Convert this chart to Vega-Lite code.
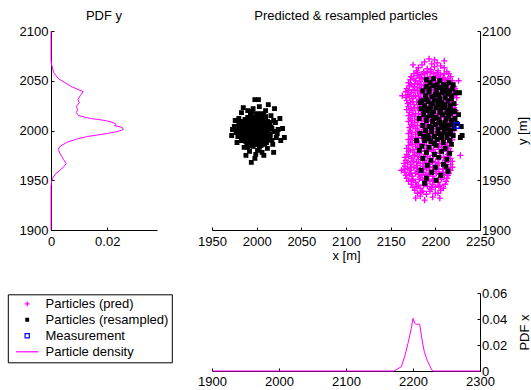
{
"$schema": "https://vega.github.io/schema/vega-lite/v6.json",
"background": "white",
"padding": {"left": 7, "top": 10, "right": 0, "bottom": 0},
"columns": 2,
"bounds": "flush",
"spacing": {"row": 63, "column": 55},
"datasets": {
"pdfy": [{"y":1900,"d":0},{"y":1944,"d":0},{"y":1949,"d":0.0002},{"y":1953,"d":0.0008},{"y":1957,"d":0.0018},{"y":1960,"d":0.0032},{"y":1964,"d":0.0047},{"y":1967,"d":0.0054},{"y":1971,"d":0.0044},{"y":1974,"d":0.0038},{"y":1977,"d":0.0032},{"y":1981,"d":0.0026},{"y":1984,"d":0.0032},{"y":1988,"d":0.0056},{"y":1991,"d":0.0086},{"y":1994,"d":0.013},{"y":1997,"d":0.02},{"y":1999,"d":0.0238},{"y":2001,"d":0.0257},{"y":2003,"d":0.0254},{"y":2005,"d":0.0226},{"y":2006,"d":0.0232},{"y":2007,"d":0.0228},{"y":2009,"d":0.021},{"y":2011,"d":0.0172},{"y":2012,"d":0.014},{"y":2015,"d":0.0098},{"y":2018,"d":0.009},{"y":2021,"d":0.0095},{"y":2024,"d":0.009},{"y":2028,"d":0.0101},{"y":2031,"d":0.0096},{"y":2035,"d":0.0104},{"y":2039,"d":0.0114},{"y":2044,"d":0.0074},{"y":2048,"d":0.005},{"y":2052,"d":0.0027},{"y":2058,"d":0.001},{"y":2064,"d":0.0004},{"y":2068,"d":0.0001},{"y":2072,"d":0},{"y":2100,"d":0}],
"pdfx": [{"x":1900,"d":0},{"x":2171,"d":0},{"x":2175,"d":0.001},{"x":2182.5,"d":0.0033},{"x":2187.5,"d":0.011},{"x":2192.5,"d":0.0213},{"x":2197.5,"d":0.0328},{"x":2200,"d":0.0405},{"x":2202.5,"d":0.0367},{"x":2205,"d":0.036},{"x":2210,"d":0.036},{"x":2213.5,"d":0.024},{"x":2217,"d":0.0145},{"x":2221,"d":0.0085},{"x":2225,"d":0.004},{"x":2228,"d":0.0008},{"x":2231,"d":0},{"x":2300,"d":0}],
"pts": [
{"s":"p","x":2193,"y":2072},{"s":"p","x":2199,"y":2071},
{"s":"p","x":2188,"y":2069},{"s":"p","x":2202,"y":2068},
{"s":"p","x":2185,"y":2066},{"s":"p","x":2196,"y":2067},{"s":"p","x":2206,"y":2065},
{"s":"p","x":2181,"y":2063},{"s":"p","x":2191,"y":2062},{"s":"p","x":2199,"y":2064},{"s":"p","x":2210,"y":2063},
{"s":"p","x":2179,"y":2060},{"s":"p","x":2187,"y":2059},{"s":"p","x":2195,"y":2061},{"s":"p","x":2203,"y":2060},{"s":"p","x":2213,"y":2059},
{"s":"p","x":2176,"y":2057},{"s":"p","x":2184,"y":2056},{"s":"p","x":2191,"y":2058},{"s":"p","x":2198,"y":2057},{"s":"p","x":2206,"y":2056},{"s":"p","x":2215,"y":2057},
{"s":"p","x":2173,"y":2054},{"s":"p","x":2180,"y":2055},{"s":"p","x":2188,"y":2053},{"s":"p","x":2194,"y":2054},{"s":"p","x":2201,"y":2055},{"s":"p","x":2209,"y":2053},{"s":"p","x":2217,"y":2054},
{"s":"p","x":2172,"y":2051},{"s":"p","x":2178,"y":2050},{"s":"p","x":2185,"y":2052},{"s":"p","x":2192,"y":2051},{"s":"p","x":2198,"y":2050},{"s":"p","x":2205,"y":2052},{"s":"p","x":2211,"y":2051},{"s":"p","x":2219,"y":2050},
{"s":"p","x":2170,"y":2048},{"s":"p","x":2177,"y":2047},{"s":"p","x":2183,"y":2049},{"s":"p","x":2190,"y":2048},{"s":"p","x":2197,"y":2047},{"s":"p","x":2203,"y":2049},{"s":"p","x":2210,"y":2048},{"s":"p","x":2218,"y":2047},
{"s":"p","x":2171,"y":2045},{"s":"p","x":2176,"y":2044},{"s":"p","x":2184,"y":2046},{"s":"p","x":2189,"y":2045},{"s":"p","x":2196,"y":2044},{"s":"p","x":2204,"y":2046},{"s":"p","x":2212,"y":2045},{"s":"p","x":2221,"y":2044},
{"s":"p","x":2168,"y":2042},{"s":"p","x":2175,"y":2041},{"s":"p","x":2182,"y":2043},{"s":"p","x":2188,"y":2042},{"s":"p","x":2195,"y":2041},{"s":"p","x":2201,"y":2043},{"s":"p","x":2208,"y":2042},{"s":"p","x":2215,"y":2041},{"s":"p","x":2222,"y":2042},
{"s":"p","x":2167,"y":2039},{"s":"p","x":2173,"y":2038},{"s":"p","x":2180,"y":2040},{"s":"p","x":2186,"y":2039},{"s":"p","x":2193,"y":2038},{"s":"p","x":2199,"y":2040},{"s":"p","x":2206,"y":2039},{"s":"p","x":2213,"y":2038},{"s":"p","x":2223,"y":2039},
{"s":"p","x":2169,"y":2036},{"s":"p","x":2176,"y":2035},{"s":"p","x":2183,"y":2037},{"s":"p","x":2190,"y":2036},{"s":"p","x":2197,"y":2035},{"s":"p","x":2204,"y":2037},{"s":"p","x":2211,"y":2036},{"s":"p","x":2220,"y":2035},
{"s":"p","x":2167,"y":2033},{"s":"p","x":2174,"y":2032},{"s":"p","x":2181,"y":2034},{"s":"p","x":2188,"y":2033},{"s":"p","x":2195,"y":2032},{"s":"p","x":2202,"y":2034},{"s":"p","x":2209,"y":2033},{"s":"p","x":2216,"y":2032},{"s":"p","x":2224,"y":2033},
{"s":"p","x":2168,"y":2030},{"s":"p","x":2175,"y":2029},{"s":"p","x":2182,"y":2031},{"s":"p","x":2189,"y":2030},{"s":"p","x":2196,"y":2029},{"s":"p","x":2203,"y":2031},{"s":"p","x":2210,"y":2030},{"s":"p","x":2219,"y":2029},
{"s":"p","x":2169,"y":2027},{"s":"p","x":2176,"y":2026},{"s":"p","x":2183,"y":2028},{"s":"p","x":2190,"y":2027},{"s":"p","x":2197,"y":2026},{"s":"p","x":2205,"y":2028},{"s":"p","x":2213,"y":2027},{"s":"p","x":2222,"y":2026},
{"s":"p","x":2170,"y":2024},{"s":"p","x":2177,"y":2023},{"s":"p","x":2185,"y":2025},{"s":"p","x":2192,"y":2024},{"s":"p","x":2199,"y":2023},{"s":"p","x":2207,"y":2025},{"s":"p","x":2215,"y":2024},{"s":"p","x":2221,"y":2023},
{"s":"p","x":2168,"y":2021},{"s":"p","x":2175,"y":2020},{"s":"p","x":2182,"y":2022},{"s":"p","x":2189,"y":2021},{"s":"p","x":2196,"y":2020},{"s":"p","x":2203,"y":2022},{"s":"p","x":2211,"y":2021},{"s":"p","x":2223,"y":2020},
{"s":"p","x":2171,"y":2018},{"s":"p","x":2178,"y":2017},{"s":"p","x":2186,"y":2019},{"s":"p","x":2193,"y":2018},{"s":"p","x":2200,"y":2017},{"s":"p","x":2208,"y":2019},{"s":"p","x":2216,"y":2018},
{"s":"p","x":2170,"y":2015},{"s":"p","x":2177,"y":2014},{"s":"p","x":2184,"y":2016},{"s":"p","x":2191,"y":2015},{"s":"p","x":2198,"y":2014},{"s":"p","x":2205,"y":2016},{"s":"p","x":2213,"y":2015},{"s":"p","x":2222,"y":2014},
{"s":"p","x":2172,"y":2012},{"s":"p","x":2180,"y":2011},{"s":"p","x":2187,"y":2013},{"s":"p","x":2194,"y":2012},{"s":"p","x":2202,"y":2011},{"s":"p","x":2210,"y":2013},{"s":"p","x":2219,"y":2012},
{"s":"p","x":2170,"y":2009},{"s":"p","x":2177,"y":2008},{"s":"p","x":2185,"y":2010},{"s":"p","x":2192,"y":2009},{"s":"p","x":2199,"y":2008},{"s":"p","x":2207,"y":2010},{"s":"p","x":2215,"y":2009},{"s":"p","x":2223,"y":2008},
{"s":"p","x":2173,"y":2006},{"s":"p","x":2180,"y":2005},{"s":"p","x":2188,"y":2007},{"s":"p","x":2195,"y":2006},{"s":"p","x":2203,"y":2005},{"s":"p","x":2211,"y":2007},{"s":"p","x":2220,"y":2006},
{"s":"p","x":2171,"y":2003},{"s":"p","x":2178,"y":2002},{"s":"p","x":2186,"y":2004},{"s":"p","x":2193,"y":2003},{"s":"p","x":2201,"y":2002},{"s":"p","x":2209,"y":2004},{"s":"p","x":2218,"y":2003},
{"s":"p","x":2172,"y":2000},{"s":"p","x":2180,"y":1999},{"s":"p","x":2187,"y":2001},{"s":"p","x":2194,"y":2000},{"s":"p","x":2202,"y":1999},{"s":"p","x":2210,"y":2001},{"s":"p","x":2221,"y":2000},
{"s":"p","x":2170,"y":1997},{"s":"p","x":2178,"y":1996},{"s":"p","x":2185,"y":1998},{"s":"p","x":2192,"y":1997},{"s":"p","x":2200,"y":1996},{"s":"p","x":2208,"y":1998},{"s":"p","x":2217,"y":1997},
{"s":"p","x":2173,"y":1994},{"s":"p","x":2181,"y":1993},{"s":"p","x":2189,"y":1995},{"s":"p","x":2197,"y":1994},{"s":"p","x":2206,"y":1993},{"s":"p","x":2215,"y":1994},
{"s":"p","x":2170,"y":1991},{"s":"p","x":2177,"y":1990},{"s":"p","x":2185,"y":1992},{"s":"p","x":2192,"y":1991},{"s":"p","x":2200,"y":1990},{"s":"p","x":2209,"y":1992},{"s":"p","x":2219,"y":1991},
{"s":"p","x":2172,"y":1988},{"s":"p","x":2180,"y":1987},{"s":"p","x":2188,"y":1989},{"s":"p","x":2196,"y":1988},{"s":"p","x":2205,"y":1987},{"s":"p","x":2214,"y":1988},
{"s":"p","x":2170,"y":1985},{"s":"p","x":2178,"y":1984},{"s":"p","x":2186,"y":1986},{"s":"p","x":2194,"y":1985},{"s":"p","x":2203,"y":1984},{"s":"p","x":2213,"y":1985},
{"s":"p","x":2168,"y":1982},{"s":"p","x":2175,"y":1981},{"s":"p","x":2182,"y":1983},{"s":"p","x":2190,"y":1982},{"s":"p","x":2198,"y":1981},{"s":"p","x":2207,"y":1983},{"s":"p","x":2215,"y":1982},
{"s":"p","x":2170,"y":1979},{"s":"p","x":2177,"y":1978},{"s":"p","x":2184,"y":1980},{"s":"p","x":2192,"y":1979},{"s":"p","x":2200,"y":1978},{"s":"p","x":2209,"y":1980},{"s":"p","x":2217,"y":1979},
{"s":"p","x":2168,"y":1976},{"s":"p","x":2175,"y":1975},{"s":"p","x":2182,"y":1977},{"s":"p","x":2189,"y":1976},{"s":"p","x":2197,"y":1975},{"s":"p","x":2205,"y":1977},{"s":"p","x":2214,"y":1976},
{"s":"p","x":2166,"y":1973},{"s":"p","x":2173,"y":1972},{"s":"p","x":2180,"y":1974},{"s":"p","x":2187,"y":1973},{"s":"p","x":2194,"y":1972},{"s":"p","x":2201,"y":1974},{"s":"p","x":2209,"y":1973},{"s":"p","x":2217,"y":1972},
{"s":"p","x":2167,"y":1970},{"s":"p","x":2174,"y":1969},{"s":"p","x":2181,"y":1971},{"s":"p","x":2188,"y":1970},{"s":"p","x":2195,"y":1969},{"s":"p","x":2203,"y":1971},{"s":"p","x":2211,"y":1970},{"s":"p","x":2219,"y":1969},
{"s":"p","x":2165,"y":1967},{"s":"p","x":2172,"y":1966},{"s":"p","x":2179,"y":1968},{"s":"p","x":2186,"y":1967},{"s":"p","x":2193,"y":1966},{"s":"p","x":2200,"y":1968},{"s":"p","x":2208,"y":1967},{"s":"p","x":2217,"y":1966},
{"s":"p","x":2166,"y":1964},{"s":"p","x":2173,"y":1963},{"s":"p","x":2180,"y":1965},{"s":"p","x":2187,"y":1964},{"s":"p","x":2194,"y":1963},{"s":"p","x":2202,"y":1965},{"s":"p","x":2210,"y":1964},{"s":"p","x":2219,"y":1963},
{"s":"p","x":2165,"y":1961},{"s":"p","x":2172,"y":1960},{"s":"p","x":2179,"y":1962},{"s":"p","x":2186,"y":1961},{"s":"p","x":2193,"y":1960},{"s":"p","x":2200,"y":1962},{"s":"p","x":2208,"y":1961},{"s":"p","x":2217,"y":1960},
{"s":"p","x":2166,"y":1958},{"s":"p","x":2173,"y":1957},{"s":"p","x":2180,"y":1959},{"s":"p","x":2187,"y":1958},{"s":"p","x":2194,"y":1957},{"s":"p","x":2201,"y":1959},{"s":"p","x":2209,"y":1958},{"s":"p","x":2215,"y":1957},
{"s":"p","x":2167,"y":1955},{"s":"p","x":2174,"y":1954},{"s":"p","x":2181,"y":1956},{"s":"p","x":2189,"y":1955},{"s":"p","x":2197,"y":1954},{"s":"p","x":2205,"y":1956},{"s":"p","x":2214,"y":1955},
{"s":"p","x":2168,"y":1952},{"s":"p","x":2175,"y":1951},{"s":"p","x":2183,"y":1953},{"s":"p","x":2190,"y":1952},{"s":"p","x":2198,"y":1951},{"s":"p","x":2206,"y":1953},{"s":"p","x":2213,"y":1952},
{"s":"p","x":2170,"y":1949},{"s":"p","x":2178,"y":1948},{"s":"p","x":2186,"y":1950},{"s":"p","x":2194,"y":1949},{"s":"p","x":2203,"y":1948},{"s":"p","x":2212,"y":1949},
{"s":"p","x":2173,"y":1946},{"s":"p","x":2181,"y":1945},{"s":"p","x":2189,"y":1947},{"s":"p","x":2197,"y":1946},{"s":"p","x":2205,"y":1945},{"s":"p","x":2211,"y":1946},
{"s":"p","x":2175,"y":1943},{"s":"p","x":2183,"y":1942},{"s":"p","x":2191,"y":1944},{"s":"p","x":2200,"y":1943},{"s":"p","x":2209,"y":1942},
{"s":"p","x":2177,"y":1940},{"s":"p","x":2186,"y":1939},{"s":"p","x":2195,"y":1941},{"s":"p","x":2206,"y":1940},
{"s":"p","x":2180,"y":1937},{"s":"p","x":2190,"y":1936},{"s":"p","x":2203,"y":1937},
{"s":"p","x":2183,"y":1934},{"s":"p","x":2197,"y":1933},{"s":"p","x":2188,"y":1930},
{"s":"p","x":2163,"y":2035},{"s":"p","x":2162,"y":1960},{"s":"p","x":2226,"y":2050},{"s":"p","x":2228,"y":1975},{"s":"p","x":2175,"y":2066},{"s":"p","x":2210,"y":2070},{"s":"p","x":2178,"y":1932},{"s":"p","x":2205,"y":1932},
{"s":"p","x":2180,"y":2058},{"s":"p","x":2188,"y":2057},{"s":"p","x":2195,"y":2059},{"s":"p","x":2202,"y":2058},{"s":"p","x":2210,"y":2057},
{"s":"p","x":2176,"y":2052},{"s":"p","x":2182,"y":2053},{"s":"p","x":2189,"y":2051},{"s":"p","x":2196,"y":2052},{"s":"p","x":2203,"y":2053},{"s":"p","x":2208,"y":2051},{"s":"p","x":2214,"y":2052},
{"s":"p","x":2173,"y":2046},{"s":"p","x":2180,"y":2047},{"s":"p","x":2187,"y":2045},{"s":"p","x":2193,"y":2046},{"s":"p","x":2200,"y":2047},{"s":"p","x":2207,"y":2045},{"s":"p","x":2215,"y":2046},
{"s":"p","x":2170,"y":2040},{"s":"p","x":2177,"y":2041},{"s":"p","x":2184,"y":2039},{"s":"p","x":2190,"y":2040},{"s":"p","x":2196,"y":2041},{"s":"p","x":2203,"y":2039},{"s":"p","x":2210,"y":2040},{"s":"p","x":2219,"y":2041},
{"s":"p","x":2171,"y":2034},{"s":"p","x":2178,"y":2035},{"s":"p","x":2185,"y":2033},{"s":"p","x":2192,"y":2034},{"s":"p","x":2199,"y":2035},{"s":"p","x":2206,"y":2033},{"s":"p","x":2213,"y":2034},{"s":"p","x":2221,"y":2035},
{"s":"p","x":2172,"y":2028},{"s":"p","x":2179,"y":2029},{"s":"p","x":2186,"y":2027},{"s":"p","x":2194,"y":2028},{"s":"p","x":2201,"y":2029},{"s":"p","x":2209,"y":2027},{"s":"p","x":2217,"y":2028},
{"s":"p","x":2173,"y":2022},{"s":"p","x":2180,"y":2023},{"s":"p","x":2187,"y":2021},{"s":"p","x":2194,"y":2022},{"s":"p","x":2201,"y":2023},{"s":"p","x":2208,"y":2021},{"s":"p","x":2218,"y":2022},
{"s":"p","x":2174,"y":2016},{"s":"p","x":2181,"y":2017},{"s":"p","x":2188,"y":2015},{"s":"p","x":2195,"y":2016},{"s":"p","x":2202,"y":2017},{"s":"p","x":2210,"y":2015},{"s":"p","x":2219,"y":2016},
{"s":"p","x":2174,"y":2010},{"s":"p","x":2181,"y":2011},{"s":"p","x":2189,"y":2009},{"s":"p","x":2196,"y":2010},{"s":"p","x":2204,"y":2011},{"s":"p","x":2212,"y":2009},
{"s":"p","x":2175,"y":2004},{"s":"p","x":2183,"y":2005},{"s":"p","x":2190,"y":2003},{"s":"p","x":2197,"y":2004},{"s":"p","x":2205,"y":2005},{"s":"p","x":2214,"y":2003},
{"s":"p","x":2174,"y":1998},{"s":"p","x":2182,"y":1999},{"s":"p","x":2189,"y":1997},{"s":"p","x":2196,"y":1998},{"s":"p","x":2204,"y":1999},{"s":"p","x":2213,"y":1997},
{"s":"p","x":2174,"y":1992},{"s":"p","x":2181,"y":1993},{"s":"p","x":2189,"y":1991},{"s":"p","x":2196,"y":1992},{"s":"p","x":2205,"y":1993},{"s":"p","x":2214,"y":1991},
{"s":"p","x":2174,"y":1986},{"s":"p","x":2182,"y":1987},{"s":"p","x":2190,"y":1985},{"s":"p","x":2199,"y":1986},{"s":"p","x":2208,"y":1987},
{"s":"p","x":2172,"y":1980},{"s":"p","x":2180,"y":1981},{"s":"p","x":2188,"y":1979},{"s":"p","x":2196,"y":1980},{"s":"p","x":2204,"y":1981},{"s":"p","x":2213,"y":1979},
{"s":"p","x":2170,"y":1974},{"s":"p","x":2177,"y":1975},{"s":"p","x":2184,"y":1973},{"s":"p","x":2191,"y":1974},{"s":"p","x":2198,"y":1975},{"s":"p","x":2205,"y":1973},{"s":"p","x":2213,"y":1974},
{"s":"p","x":2169,"y":1968},{"s":"p","x":2176,"y":1969},{"s":"p","x":2183,"y":1967},{"s":"p","x":2190,"y":1968},{"s":"p","x":2197,"y":1969},{"s":"p","x":2204,"y":1967},{"s":"p","x":2212,"y":1968},
{"s":"p","x":2169,"y":1962},{"s":"p","x":2176,"y":1963},{"s":"p","x":2183,"y":1961},{"s":"p","x":2190,"y":1962},{"s":"p","x":2197,"y":1963},{"s":"p","x":2204,"y":1961},{"s":"p","x":2213,"y":1962},
{"s":"p","x":2171,"y":1956},{"s":"p","x":2178,"y":1957},{"s":"p","x":2185,"y":1955},{"s":"p","x":2193,"y":1956},{"s":"p","x":2201,"y":1957},{"s":"p","x":2210,"y":1955},
{"s":"p","x":2174,"y":1950},{"s":"p","x":2182,"y":1951},{"s":"p","x":2190,"y":1949},{"s":"p","x":2198,"y":1950},{"s":"p","x":2207,"y":1951},
{"s":"p","x":2179,"y":1944},{"s":"p","x":2187,"y":1945},{"s":"p","x":2196,"y":1943},{"s":"p","x":2204,"y":1944},
{"s":"p","x":2184,"y":1938},{"s":"p","x":2194,"y":1939},{"s":"p","x":2200,"y":1937},
{"s":"r","x":2190,"y":2044},{"s":"r","x":2197,"y":2045},{"s":"r","x":2205,"y":2043},{"s":"r","x":2212,"y":2044},{"s":"r","x":2219,"y":2042},{"s":"r","x":2186,"y":2040},{"s":"r","x":2193,"y":2039},{"s":"r","x":2201,"y":2041},{"s":"r","x":2208,"y":2038},{"s":"r","x":2216,"y":2040},{"s":"r","x":2223,"y":2038},{"s":"r","x":2189,"y":2035},{"s":"r","x":2196,"y":2034},{"s":"r","x":2204,"y":2036},{"s":"r","x":2211,"y":2033},{"s":"r","x":2218,"y":2035},{"s":"r","x":2185,"y":2030},{"s":"r","x":2192,"y":2029},{"s":"r","x":2199,"y":2031},{"s":"r","x":2207,"y":2028},{"s":"r","x":2214,"y":2030},{"s":"r","x":2221,"y":2027},{"s":"r","x":2188,"y":2025},{"s":"r","x":2195,"y":2024},{"s":"r","x":2203,"y":2026},{"s":"r","x":2210,"y":2023},{"s":"r","x":2217,"y":2025},{"s":"r","x":2191,"y":2020},{"s":"r","x":2198,"y":2019},{"s":"r","x":2206,"y":2021},{"s":"r","x":2213,"y":2018},{"s":"r","x":2220,"y":2020},{"s":"r","x":2184,"y":2022},{"s":"r","x":2200,"y":2036},{"s":"r","x":2209,"y":2046},{"s":"r","x":2194,"y":2048},{"s":"r","x":2215,"y":2048},
{"s":"r","x":2187,"y":2016},{"s":"r","x":2194,"y":2015},{"s":"r","x":2201,"y":2013},{"s":"r","x":2208,"y":2016},{"s":"r","x":2215,"y":2014},{"s":"r","x":2222,"y":2012},{"s":"r","x":2190,"y":2010},{"s":"r","x":2197,"y":2009},{"s":"r","x":2204,"y":2011},{"s":"r","x":2211,"y":2008},{"s":"r","x":2218,"y":2010},{"s":"r","x":2186,"y":2005},{"s":"r","x":2193,"y":2004},{"s":"r","x":2200,"y":2006},{"s":"r","x":2207,"y":2003},{"s":"r","x":2214,"y":2005},{"s":"r","x":2221,"y":2002},{"s":"r","x":2189,"y":2000},{"s":"r","x":2196,"y":1999},{"s":"r","x":2203,"y":2001},{"s":"r","x":2210,"y":1998},{"s":"r","x":2217,"y":2000},{"s":"r","x":2192,"y":1995},{"s":"r","x":2199,"y":1994},{"s":"r","x":2206,"y":1996},{"s":"r","x":2213,"y":1993},{"s":"r","x":2220,"y":1995},{"s":"r","x":2188,"y":1990},{"s":"r","x":2195,"y":1989},{"s":"r","x":2202,"y":1991},{"s":"r","x":2209,"y":1988},{"s":"r","x":2216,"y":1990},{"s":"r","x":2183,"y":1997},{"s":"r","x":2224,"y":2007},{"s":"r","x":2229,"y":2004},{"s":"r","x":2228,"y":1993},{"s":"r","x":2226,"y":2016},{"s":"r","x":2182,"y":2012},{"s":"r","x":2205,"y":2018},{"s":"r","x":2212,"y":2002},
{"s":"r","x":2185,"y":1984},{"s":"r","x":2193,"y":1983},{"s":"r","x":2201,"y":1985},{"s":"r","x":2211,"y":1982},{"s":"r","x":2190,"y":1978},{"s":"r","x":2199,"y":1976},{"s":"r","x":2207,"y":1979},{"s":"r","x":2216,"y":1977},{"s":"r","x":2186,"y":1972},{"s":"r","x":2195,"y":1970},{"s":"r","x":2204,"y":1973},{"s":"r","x":2213,"y":1971},{"s":"r","x":2191,"y":1965},{"s":"r","x":2200,"y":1963},{"s":"r","x":2209,"y":1966},{"s":"r","x":2184,"y":1960},{"s":"r","x":2196,"y":1958},{"s":"r","x":2206,"y":1955},{"s":"r","x":2214,"y":1959},{"s":"r","x":2190,"y":1952},{"s":"r","x":2201,"y":1950},{"s":"r","x":2182,"y":1980},{"s":"r","x":2218,"y":1986},{"s":"r","x":2188,"y":1947},{"s":"r","x":2212,"y":1964},
{"s":"r","x":2198,"y":2052},{"s":"r","x":2205,"y":2050},{"s":"r","x":2190,"y":2051},{"s":"r","x":2220,"y":2046},{"s":"r","x":2183,"y":2028},{"s":"r","x":2179,"y":1990},{"s":"r","x":2230,"y":1995},{"s":"r","x":2227,"y":2038},
{"s":"r","x":2193,"y":2042},{"s":"r","x":2201,"y":2037},{"s":"r","x":2208,"y":2042},{"s":"r","x":2214,"y":2037},{"s":"r","x":2190,"y":2031},{"s":"r","x":2197,"y":2027},{"s":"r","x":2205,"y":2032},{"s":"r","x":2211,"y":2026},{"s":"r","x":2218,"y":2032},{"s":"r","x":2193,"y":2022},{"s":"r","x":2201,"y":2023},{"s":"r","x":2208,"y":2025},{"s":"r","x":2215,"y":2021},{"s":"r","x":2190,"y":2013},{"s":"r","x":2198,"y":2012},{"s":"r","x":2205,"y":2008},{"s":"r","x":2212,"y":2012},{"s":"r","x":2219,"y":2006},{"s":"r","x":2196,"y":2003},{"s":"r","x":2203,"y":1997},{"s":"r","x":2209,"y":2006},{"s":"r","x":2216,"y":1997},{"s":"r","x":2193,"y":1992},{"s":"r","x":2199,"y":1987},{"s":"r","x":2207,"y":1993},{"s":"r","x":2213,"y":1996},{"s":"r","x":2222,"y":2019},{"s":"r","x":2187,"y":2020},{"s":"r","x":2187,"y":1994},{"s":"r","x":2202,"y":2046},{"s":"r","x":2211,"y":2040},{"s":"r","x":2196,"y":2017},{"s":"r","x":2203,"y":2029},{"s":"r","x":2217,"y":2017},
{"s":"r","x":1990,"y":2013},{"s":"r","x":1995,"y":2014},{"s":"r","x":2000,"y":2012},{"s":"r","x":2005,"y":2013},{"s":"r","x":2010,"y":2014},
{"s":"r","x":1985,"y":2009},{"s":"r","x":1989,"y":2010},{"s":"r","x":1994,"y":2008},{"s":"r","x":1998,"y":2009},{"s":"r","x":2003,"y":2010},{"s":"r","x":2007,"y":2008},{"s":"r","x":2012,"y":2009},
{"s":"r","x":1984,"y":2005},{"s":"r","x":1988,"y":2006},{"s":"r","x":1993,"y":2004},{"s":"r","x":1997,"y":2005},{"s":"r","x":2002,"y":2006},{"s":"r","x":2006,"y":2004},{"s":"r","x":2011,"y":2005},{"s":"r","x":2015,"y":2006},
{"s":"r","x":1982,"y":2001},{"s":"r","x":1987,"y":2000},{"s":"r","x":1991,"y":2002},{"s":"r","x":1996,"y":2001},{"s":"r","x":2000,"y":2000},{"s":"r","x":2004,"y":2002},{"s":"r","x":2009,"y":2001},{"s":"r","x":2013,"y":2000},{"s":"r","x":2017,"y":2002},
{"s":"r","x":1983,"y":1997},{"s":"r","x":1988,"y":1996},{"s":"r","x":1992,"y":1998},{"s":"r","x":1997,"y":1997},{"s":"r","x":2001,"y":1996},{"s":"r","x":2006,"y":1998},{"s":"r","x":2010,"y":1997},{"s":"r","x":2015,"y":1996},
{"s":"r","x":1985,"y":1993},{"s":"r","x":1990,"y":1994},{"s":"r","x":1994,"y":1992},{"s":"r","x":1999,"y":1993},{"s":"r","x":2003,"y":1994},{"s":"r","x":2008,"y":1992},{"s":"r","x":2012,"y":1993},
{"s":"r","x":1988,"y":1989},{"s":"r","x":1993,"y":1990},{"s":"r","x":1997,"y":1988},{"s":"r","x":2002,"y":1989},{"s":"r","x":2007,"y":1990},{"s":"r","x":2011,"y":1988},
{"s":"r","x":1991,"y":1985},{"s":"r","x":1996,"y":1984},{"s":"r","x":2001,"y":1986},{"s":"r","x":2005,"y":1985},
{"s":"r","x":1987,"y":2011},{"s":"r","x":1992,"y":2012},{"s":"r","x":1997,"y":2011},{"s":"r","x":2002,"y":2010},{"s":"r","x":2008,"y":2011},
{"s":"r","x":1986,"y":2007},{"s":"r","x":1991,"y":2007},{"s":"r","x":1996,"y":2006},{"s":"r","x":2000,"y":2007},{"s":"r","x":2005,"y":2008},{"s":"r","x":2009,"y":2007},{"s":"r","x":2014,"y":2008},
{"s":"r","x":1980,"y":2003},{"s":"r","x":1985,"y":2003},{"s":"r","x":1990,"y":2004},{"s":"r","x":1994,"y":2003},{"s":"r","x":1999,"y":2003},{"s":"r","x":2003,"y":2004},{"s":"r","x":2008,"y":2003},{"s":"r","x":2012,"y":2002},{"s":"r","x":2016,"y":2003},
{"s":"r","x":1978,"y":1999},{"s":"r","x":1985,"y":1999},{"s":"r","x":1989,"y":1998},{"s":"r","x":1994,"y":1999},{"s":"r","x":1998,"y":2000},{"s":"r","x":2003,"y":1999},{"s":"r","x":2007,"y":1999},{"s":"r","x":2011,"y":1998},{"s":"r","x":2019,"y":1999},
{"s":"r","x":1981,"y":1995},{"s":"r","x":1987,"y":1995},{"s":"r","x":1991,"y":1996},{"s":"r","x":1996,"y":1995},{"s":"r","x":2000,"y":1994},{"s":"r","x":2005,"y":1995},{"s":"r","x":2009,"y":1996},{"s":"r","x":2014,"y":1995},
{"s":"r","x":1986,"y":1991},{"s":"r","x":1991,"y":1991},{"s":"r","x":1995,"y":1990},{"s":"r","x":2000,"y":1991},{"s":"r","x":2004,"y":1992},{"s":"r","x":2009,"y":1990},{"s":"r","x":2014,"y":1991},
{"s":"r","x":1989,"y":1987},{"s":"r","x":1994,"y":1987},{"s":"r","x":1999,"y":1986},{"s":"r","x":2004,"y":1987},{"s":"r","x":2009,"y":1986},
{"s":"r","x":1975,"y":2004},{"s":"r","x":1972,"y":1995},{"s":"r","x":1978,"y":1988},{"s":"r","x":1980,"y":2012},{"s":"r","x":1983,"y":2018},{"s":"r","x":1990,"y":2020},{"s":"r","x":1996,"y":2022},{"s":"r","x":2003,"y":2024},{"s":"r","x":2010,"y":2020},{"s":"r","x":2016,"y":2015},{"s":"r","x":2021,"y":2008},{"s":"r","x":2024,"y":2001},{"s":"r","x":2022,"y":1993},{"s":"r","x":2018,"y":1986},{"s":"r","x":2012,"y":1982},{"s":"r","x":2006,"y":1978},{"s":"r","x":1999,"y":1976},{"s":"r","x":1992,"y":1979},{"s":"r","x":1986,"y":1983},{"s":"r","x":1979,"y":1994},{"s":"r","x":1998,"y":2031},{"s":"r","x":2002,"y":2031},{"s":"r","x":2020,"y":2022},{"s":"r","x":2027,"y":1990},{"s":"r","x":2031,"y":1993},{"s":"r","x":2029,"y":2002},{"s":"r","x":1994,"y":1968},{"s":"r","x":1998,"y":1972},{"s":"r","x":2008,"y":1975},{"s":"r","x":1976,"y":2010},{"s":"r","x":1985,"y":2023},{"s":"r","x":2013,"y":2026},{"s":"r","x":2019,"y":1978},{"s":"r","x":1988,"y":1975},{"s":"r","x":2026,"y":2012},{"s":"r","x":1973,"y":2001},{"s":"r","x":2005,"y":2017},{"s":"r","x":1993,"y":2016},{"s":"r","x":2015,"y":1995},{"s":"r","x":1982,"y":2006},
{"s":"r","x":1993,"y":2000},{"s":"r","x":1998,"y":2002},{"s":"r","x":2002,"y":1998},{"s":"r","x":2007,"y":2001},{"s":"r","x":1989,"y":2001},{"s":"r","x":1995,"y":2008},{"s":"r","x":2001,"y":2004},{"s":"r","x":2006,"y":1994},{"s":"r","x":1994,"y":1996},{"s":"r","x":1999,"y":1991},{"s":"r","x":2004,"y":2010},{"s":"r","x":1990,"y":2006},{"s":"r","x":2011,"y":2003},{"s":"r","x":2009,"y":1994},{"s":"r","x":1996,"y":2012},{"s":"r","x":1987,"y":1997},{"s":"r","x":2013,"y":2007},{"s":"r","x":1992,"y":1988},{"s":"r","x":2003,"y":1983},{"s":"r","x":2017,"y":1990},{"s":"r","x":1983,"y":1990},{"s":"r","x":1980,"y":2008},{"s":"r","x":2019,"y":2010},{"s":"r","x":2000,"y":2017},{"s":"r","x":1995,"y":2019},{"s":"r","x":2008,"y":2016},{"s":"r","x":1977,"y":1998},{"s":"r","x":2023,"y":1997},{"s":"r","x":2001,"y":1980},{"s":"r","x":1990,"y":1983},
{"s":"m","x":2224,"y":2005}
]
},
"concat": [
{
"width": 106, "height": 199,
"title": {"text": "PDF y", "frame": "group", "offset": -8, "baseline": "alphabetic"},
"data": {"name": "pdfy"},
"mark": {"type": "line", "color": "#ff00ff", "strokeWidth": 1},
"encoding": {
"x": {"field": "d", "type": "quantitative", "scale": {"domain": [0, 0.0377], "nice": false}, "axis": {"values": [0, 0.02], "format": "~g", "title": null, "labelPadding": 8}},
"y": {"field": "y", "type": "quantitative", "scale": {"domain": [1900, 2100], "nice": false, "zero": false}, "axis": {"values": [1900, 1950, 2000, 2050, 2100], "format": "d", "title": null, "labelPadding": 6}},
"order": {"field": "y", "type": "quantitative"}
}
},
{
"width": 268, "height": 199,
"title": {"text": "Predicted & resampled particles", "frame": "group", "offset": -8, "baseline": "alphabetic"},
"data": {"name": "pts"},
"mark": {"type": "point", "filled": false, "size": 60, "strokeWidth": 1.4, "opacity": 1},
"encoding": {
"x": {"field": "x", "type": "quantitative", "scale": {"domain": [1950, 2250], "nice": false, "zero": false}, "axis": {"values": [1950, 2000, 2050, 2100, 2150, 2200, 2250], "format": "d", "title": "x [m]", "labelPadding": 8, "titleX": 134, "titleY": 25, "titleBaseline": "middle", "titleAlign": "center"}},
"y": {"field": "y", "type": "quantitative", "scale": {"domain": [1900, 2100], "nice": false, "zero": false}, "axis": {"orient": "right", "values": [1900, 1950, 2000, 2050, 2100], "format": "d", "title": "y [m]", "labelPadding": 4.5, "titleAngle": 270, "titleX": 42, "titleY": 99.5, "titleBaseline": "middle", "titleAlign": "center"}},
"color": {"field": "s", "type": "nominal", "scale": {"domain": ["p", "r", "m", "d"], "range": ["#ff00ff", "#000000", "#0000ff", "#ff00ff"]},
"legend": {"title": null, "orient": "none", "legendX": -43.2, "legendY": 263.3, "direction": "vertical", "padding": 3, "symbolOffset": 9.9, "labelOffset": 11.8, "rowPadding": 2, "symbolSize": 36, "symbolStrokeWidth": 1.2, "labelLimit": 0, "strokeColor": "#000000", "fillColor": "#ffffff",
"labelExpr": "datum.value == 'p' ? 'Particles (pred)' : datum.value == 'r' ? 'Particles (resampled)  ' : datum.value == 'm' ? 'Measurement' : 'Particle density'",
"encode": {"legend": {"update": {"strokeWidth": {"value": 1.5}}}}}},
"shape": {"field": "s", "type": "nominal", "scale": {"domain": ["p", "r", "m", "d"], "range": ["M-0.8,0H0.8M0,-0.8V0.8", "M-0.55,-0.55L0.55,0.55M-0.55,0.55L0.55,-0.55M-0.45,-0.45H0.45V0.45H-0.45Z", "M-0.7,-0.7H0.7V0.7H-0.7Z", "M-3.7,0H3.7"]}}
}
},
{
"width": 106, "height": 78,
"data": {"values": []},
"mark": {"type": "point", "opacity": 0}
},
{
"width": 268, "height": 78,
"data": {"name": "pdfx"},
"mark": {"type": "line", "color": "#ff00ff", "strokeWidth": 1},
"encoding": {
"x": {"field": "x", "type": "quantitative", "scale": {"domain": [1900, 2300], "nice": false, "zero": false}, "axis": {"values": [1900, 2000, 2100, 2200, 2300], "format": "d", "title": null, "labelPadding": 7}},
"y": {"field": "d", "type": "quantitative", "scale": {"domain": [0, 0.06], "nice": false}, "axis": {"orient": "right", "values": [0, 0.02, 0.04, 0.06], "format": "~g", "title": "PDF x", "labelPadding": 4.5, "titleAngle": 270, "titleX": 44, "titleY": 39, "titleBaseline": "middle", "titleAlign": "center"}}
}
}
],
"config": {
"view": {"stroke": null},
"font": "Liberation Sans",
"axis": {"grid": false, "domainColor": "#000000", "tickColor": "#000000", "labelColor": "#000000", "titleColor": "#000000", "labelFont": "Liberation Sans", "titleFont": "Liberation Sans", "labelFontSize": 13, "titleFontSize": 13, "titleFontWeight": "normal", "tickSize": -3, "labelFlush": false, "labelOverlap": false, "domainWidth": 1, "tickWidth": 1},
"title": {"font": "Liberation Sans", "fontSize": 13, "fontWeight": "normal", "color": "#000000", "anchor": "middle"},
"legend": {"labelFont": "Liberation Sans", "labelFontSize": 13, "labelColor": "#000000"}
}
}
